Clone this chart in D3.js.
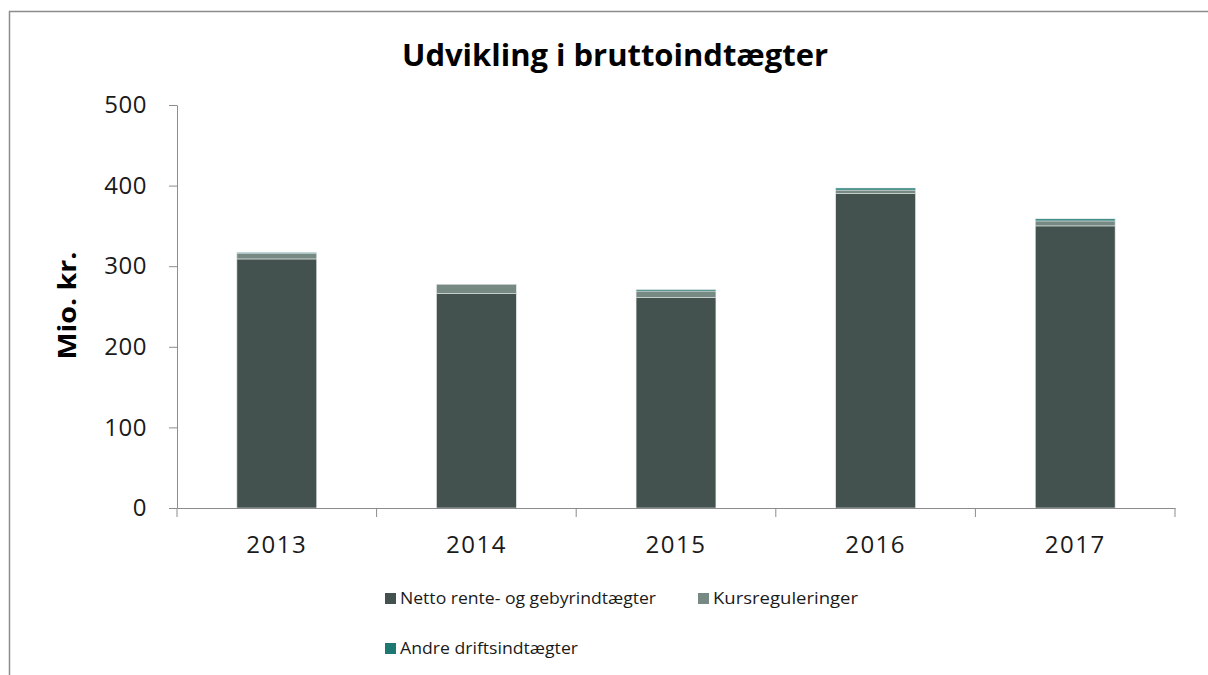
<!DOCTYPE html>
<html>
<head>
<meta charset="utf-8">
<script src="https://cdn.jsdelivr.net/npm/d3@7"></script>
<style>
  body { margin: 0; background: #fff; }
  text { font-family: "Open Sans", "Noto Sans", sans-serif; }
</style>
</head>
<body>
<div id="chart"></div>
<script>
// data
const years = ["2013", "2014", "2015", "2016", "2017"];
const netto = [309, 266, 261, 390, 350];
const kurs = [6.5, 11.6, 8.2, 4.5, 6.2];
const andre = [1.5, 0, 1.7, 2.5, 2.5];
const seriesNames = ["Netto rente- og gebyrindtægter", "Kursreguleringer", "Andre driftsindtægter"];
const seriesColors = ["#43514f", "#768a83", "#1d7873"];
const yTicks = [0, 100, 200, 300, 400, 500];

const width = 1208, height = 675;
const margin = { top: 105, right: 33, bottom: 167, left: 177 };

const svg = d3.select("#chart").append("svg")
    .attr("width", width)
    .attr("height", height);

// outer frame
svg.append("rect")
    .attr("x", 9.5).attr("y", 11.5)
    .attr("width", width + 20).attr("height", height + 20)
    .attr("fill", "none")
    .attr("stroke", "#8c8c8c")
    .attr("stroke-width", 1.5);

const rows = years.map((y, i) => ({ year: y, netto: netto[i], kurs: kurs[i], andre: andre[i] }));
const stack = d3.stack().keys(["netto", "kurs", "andre"]);
const stacked = stack(rows);

const x = d3.scaleBand()
    .domain(years)
    .range([margin.left, width - margin.right])
    .paddingInner(0.6)
    .paddingOuter(0.3);

const y = d3.scaleLinear()
    .domain([0, 500])
    .range([height - margin.bottom, margin.top]);

// title
svg.append("text")
    .attr("x", 615).attr("y", 66)
    .attr("text-anchor", "middle")
    .attr("font-size", 30)
    .attr("font-weight", "bold")
    .attr("textLength", 426)
    .attr("lengthAdjust", "spacingAndGlyphs")
    .text("Udvikling i bruttoindtægter");

// y axis label
svg.append("text")
    .attr("transform", `translate(76,${(y(0) + y(500)) / 2 - 1}) rotate(-90)`)
    .attr("text-anchor", "middle")
    .attr("font-size", 25)
    .attr("font-weight", "bold")
    .attr("textLength", 108)
    .attr("lengthAdjust", "spacingAndGlyphs")
    .text("Mio. kr.");

// bars
svg.append("g").selectAll("g")
    .data(stacked)
    .join("g")
    .attr("fill", (d, i) => seriesColors[i])
    .selectAll("rect")
    .data(d => d)
    .join("rect")
    .attr("x", d => x(d.data.year))
    .attr("y", d => y(d[1]))
    .attr("width", x.bandwidth())
    .attr("height", d => y(d[0]) - y(d[1]))
    .attr("stroke", "#e4e8e7")
    .attr("stroke-width", d => (d[1] - d[0]) > 0 ? 0.6 : 0);

// y axis
const yAxis = svg.append("g")
    .attr("transform", `translate(${margin.left},0)`)
    .call(d3.axisLeft(y).tickValues(yTicks).tickSize(8).tickSizeOuter(0).tickPadding(22));
yAxis.select(".domain").attr("stroke", "#8c8c8c");
yAxis.selectAll(".tick line").attr("stroke", "#8c8c8c");
yAxis.selectAll("text")
    .attr("font-size", 24)
    .attr("fill", "#1a1a1a")
    .attr("letter-spacing", 0.5)
    .attr("font-family", "'Open Sans', sans-serif");

// x axis
const xAxis = svg.append("g")
    .attr("transform", `translate(0,${y(0)})`)
    .call(d3.axisBottom(x).tickSize(0).tickPadding(28));
xAxis.select(".domain").attr("stroke", "#8c8c8c");
xAxis.selectAll("text")
    .attr("font-size", 24)
    .attr("fill", "#1a1a1a")
    .attr("letter-spacing", 1.5)
    .attr("font-family", "'Open Sans', sans-serif");

// category boundary ticks
const boundaries = d3.range(years.length + 1).map(i => margin.left + i * (width - margin.left - margin.right) / years.length);
svg.append("g").selectAll("line")
    .data(boundaries)
    .join("line")
    .attr("x1", d => d).attr("x2", d => d)
    .attr("y1", y(0)).attr("y2", y(0) + 9)
    .attr("stroke", "#8c8c8c");

// legend
const legendPos = [[385, 598], [698, 598], [385, 648]];
const legendLen = [256, 145, 178];
const legend = svg.append("g").selectAll("g")
    .data(seriesNames)
    .join("g")
    .attr("transform", (d, i) => `translate(${legendPos[i][0]},${legendPos[i][1]})`);
legend.append("rect")
    .attr("x", 0).attr("y", -5)
    .attr("width", 11).attr("height", 11)
    .attr("fill", (d, i) => seriesColors[i]);
legend.append("text")
    .attr("x", 15).attr("y", 6)
    .attr("font-size", 16)
    .attr("fill", "#1a1a1a")
    .attr("textLength", (d, i) => legendLen[i])
    .attr("lengthAdjust", "spacingAndGlyphs")
    .text(d => d);
</script>
</body>
</html>
